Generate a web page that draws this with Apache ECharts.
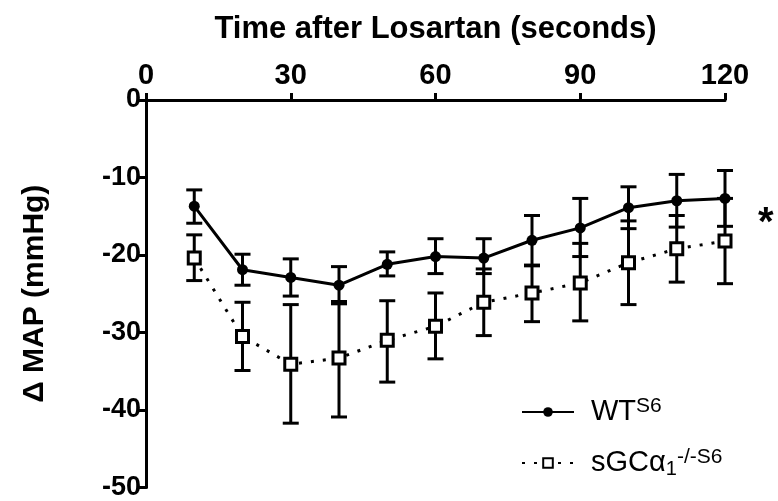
<!DOCTYPE html>
<html>
<head>
<meta charset="utf-8">
<script src="https://cdn.jsdelivr.net/npm/echarts@6/dist/echarts.min.js"></script>
<style>
  html, body { margin: 0; padding: 0; background: #fff; }
  #chart { width: 778px; height: 501px; }
</style>
</head>
<body>
<div id="chart"></div>
<script>
// seconds after losartan
const times = [10, 20, 30, 40, 50, 60, 70, 80, 90, 100, 110, 120]

// WT mean and error bar ends
const wtMean = [-13.7, -21.9, -22.9, -23.9, -21.2, -20.2, -20.4, -18.1, -16.5, -13.9, -13.0, -12.7]
const wtHigh = [-11.6, -19.9, -20.5, -21.5, -19.6, -17.9, -17.9, -14.9, -12.7, -11.2, -9.6, -9.1]
const wtLow = [-15.9, -23.9, -25.3, -26.0, -22.7, -22.4, -22.4, -21.4, -20.2, -16.6, -16.4, -16.3]

// sGCa1 -/- mean and error bar ends
const koMean = [-20.4, -30.5, -34.1, -33.3, -31.0, -29.2, -26.1, -24.9, -23.6, -21.0, -19.2, -18.2]
const koHigh = [-17.4, -26.1, -26.4, -26.3, -25.9, -24.9, -21.8, -21.3, -18.5, -15.6, -14.9, -12.7]
const koLow = [-23.3, -34.9, -41.7, -40.9, -36.4, -33.4, -30.4, -28.6, -28.5, -26.4, -23.5, -23.7]

const xTicks = [0, 30, 60, 90, 120]
const yTicks = [0, -10, -20, -30, -40, -50]

const FONT = 'Liberation Sans, Arial, sans-serif'

function errorBars(lows, highs) {
  return times.map((t, i) => [t, lows[i], highs[i]])
}

function renderErrorBar(params, api) {
  const x = api.value(0)
  const lo = api.coord([x, api.value(1)])
  const hi = api.coord([x, api.value(2)])
  const half = 8
  const style = { stroke: '#000', lineWidth: 3, fill: null }
  return {
    type: 'group',
    children: [
      { type: 'line', shape: { x1: lo[0], y1: lo[1], x2: hi[0], y2: hi[1] }, style: style },
      { type: 'line', shape: { x1: lo[0] - half, y1: lo[1], x2: lo[0] + half, y2: lo[1] }, style: style },
      { type: 'line', shape: { x1: hi[0] - half, y1: hi[1], x2: hi[0] + half, y2: hi[1] }, style: style }
    ]
  }
}

const chart = echarts.init(document.getElementById('chart'))

const option = {
  animation: false,
  backgroundColor: '#fff',
  grid: { left: 146, right: 53, top: 100, bottom: 13 },
  xAxis: {
    type: 'value',
    position: 'top',
    min: 0,
    max: 120,
    interval: 30,
    name: 'Time after Losartan (seconds)',
    nameLocation: 'middle',
    nameGap: 55,
    nameTextStyle: { fontFamily: FONT, fontWeight: 'bold', fontSize: 31, color: '#000' },
    axisLine: { onZero: false, lineStyle: { color: '#000', width: 3 } },
    axisTick: { length: 7, lineStyle: { color: '#000', width: 3 } },
    axisLabel: {
      fontFamily: FONT, fontWeight: 'bold', fontSize: 29, color: '#000', margin: 10,
      formatter: v => xTicks.includes(v) ? String(v) : ''
    },
    splitLine: { show: false }
  },
  yAxis: {
    type: 'value',
    min: -50,
    max: 0,
    interval: 10,
    name: 'Δ MAP (mmHg)',
    nameLocation: 'middle',
    nameGap: 96,
    nameTextStyle: { fontFamily: FONT, fontWeight: 'bold', fontSize: 30, color: '#000' },
    axisLine: { show: true, onZero: false, lineStyle: { color: '#000', width: 3 } },
    axisTick: { show: true, length: 7, lineStyle: { color: '#000', width: 3 } },
    axisLabel: {
      fontFamily: FONT, fontWeight: 'bold', fontSize: 27, color: '#000', margin: 5,
      formatter: v => yTicks.includes(v) ? String(v) : ''
    },
    splitLine: { show: false }
  },
  legend: {
    orient: 'vertical',
    left: 516,
    top: 391,
    itemWidth: 52,
    itemHeight: 12,
    itemGap: 16,
    data: ['WT', 'KO'],
    formatter: name => name === 'WT'
      ? '{g|}{b|WT}{sup|S6}'
      : '{g|}{b|sGCα}{sub|1}{sup|-/-S6}',
    textStyle: {
      fontFamily: FONT, color: '#000',
      rich: {
        g: { width: 12, lineHeight: 32 },
        b: { fontFamily: FONT, fontSize: 29, color: '#000', lineHeight: 32, verticalAlign: 'middle' },
        sup: { fontFamily: FONT, fontSize: 21, color: '#000', lineHeight: 32, verticalAlign: 'top', padding: [0, 0, 12, 0] },
        sub: { fontFamily: FONT, fontSize: 20, color: '#000', lineHeight: 32, verticalAlign: 'bottom', padding: [14, 0, 0, 0] }
      }
    }
  },
  graphic: [
    { type: 'text', x: 758, y: 204, style: { text: '*', font: 'bold 40px ' + FONT, fill: '#000' } }
  ],
  series: [
    {
      type: 'custom',
      name: 'wtErr',
      renderItem: renderErrorBar,
      data: errorBars(wtLow, wtHigh),
      z: 2,
      silent: true
    },
    {
      type: 'custom',
      name: 'koErr',
      renderItem: renderErrorBar,
      data: errorBars(koLow, koHigh),
      z: 2,
      silent: true
    },
    {
      type: 'line',
      name: 'WT',
      data: times.map((t, i) => [t, wtMean[i]]),
      symbol: 'circle',
      symbolSize: 11,
      showSymbol: true,
      lineStyle: { color: '#000', width: 3 },
      itemStyle: { color: '#000', borderWidth: 0 },
      z: 4
    },
    {
      type: 'line',
      name: 'KO',
      data: times.map((t, i) => [t, koMean[i]]),
      symbol: 'rect',
      symbolSize: 12,
      showSymbol: true,
      lineStyle: { color: '#000', width: 3, type: [3, 9] },
      itemStyle: { color: '#fff', borderColor: '#000', borderWidth: 3 },
      z: 4
    }
  ]
}

chart.setOption(option)
</script>
</body>
</html>
